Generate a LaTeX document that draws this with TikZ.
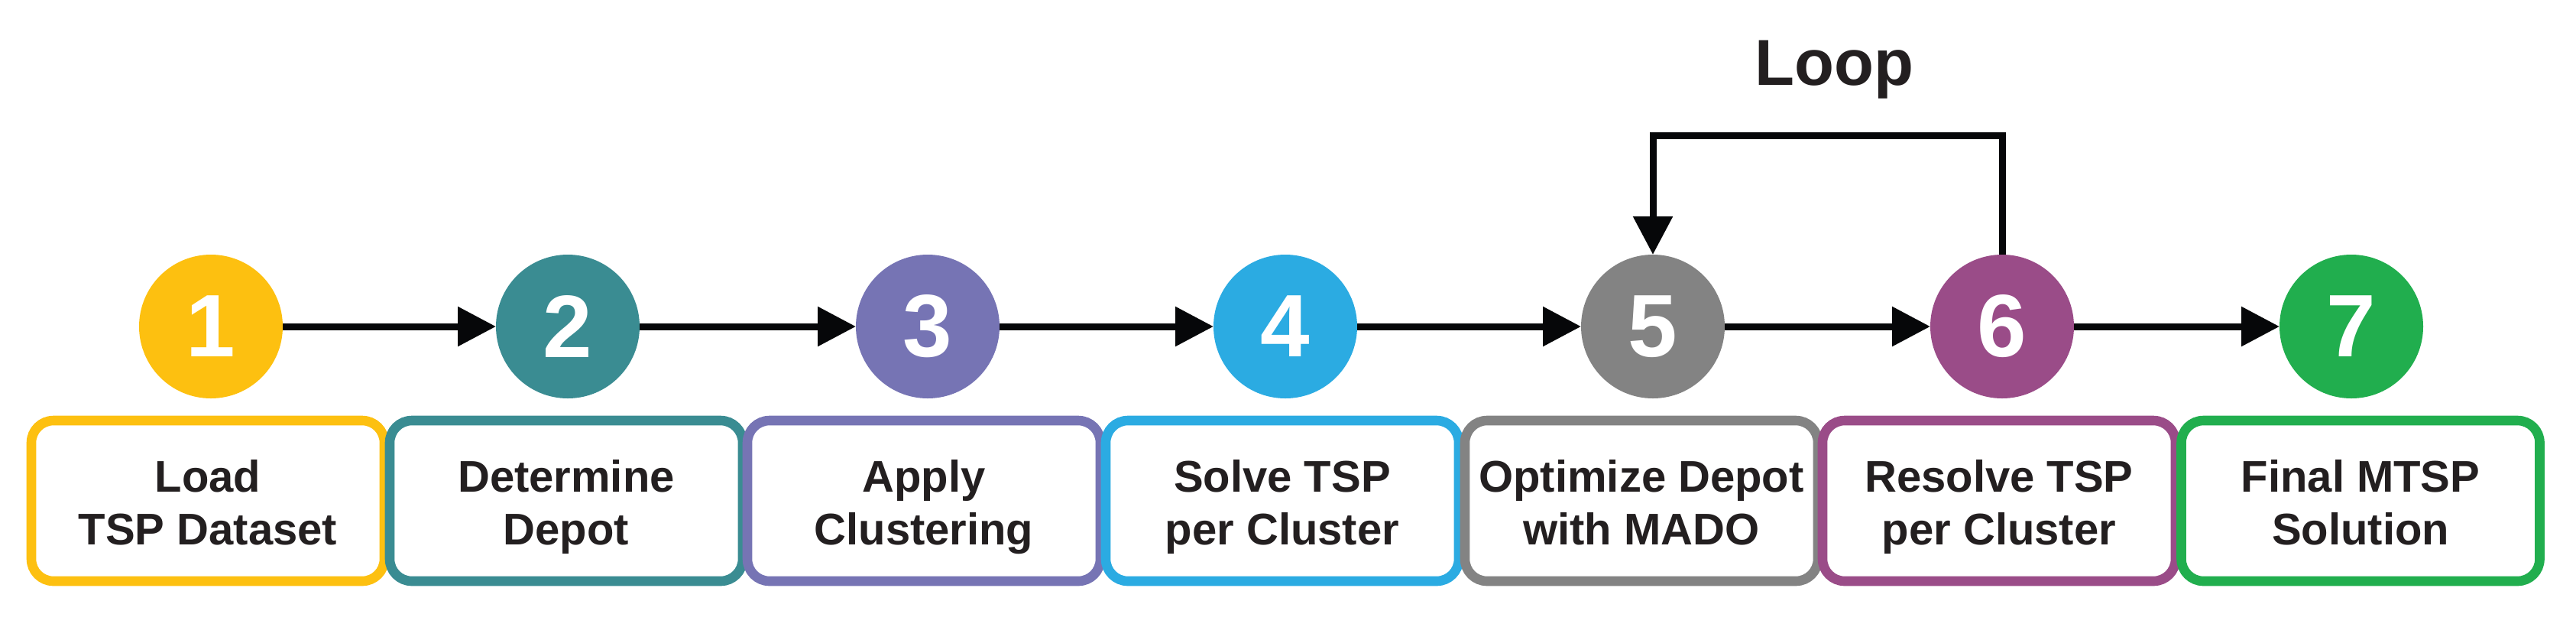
\documentclass[tikz,border=0pt]{standalone}
\usepackage{fontspec}
\setmainfont{Liberation Sans}
\usetikzlibrary{arrows.meta}
\definecolor{cA}{HTML}{FDC010}
\definecolor{cB}{HTML}{3A8C92}
\definecolor{cC}{HTML}{7674B4}
\definecolor{cD}{HTML}{2BABE2}
\definecolor{cE}{HTML}{838383}
\definecolor{cF}{HTML}{9A4C88}
\definecolor{cG}{HTML}{21AE4E}
\definecolor{txt}{HTML}{231F20}
\definecolor{arrc}{HTML}{060709}
\tikzset{
  numcirc/.style={circle, minimum size=1.88cm, inner sep=0pt, outer sep=0pt, text=white,
    font=\fontsize{33}{36}\selectfont\bfseries},
  stepbox/.style={draw, rounded corners=0.29cm, line width=0.126cm, fill=white,
    minimum width=4.62cm, minimum height=2.10cm, inner sep=0pt},
  lbl/.style={inner sep=0pt, align=center, text=txt,
    font=\fontsize{16.5}{19.9}\selectfont\bfseries},
  arr/.style={draw=arrc, line width=0.09cm, -{Triangle[length=0.5cm,width=0.5cm]}},
}
\begin{document}
\begin{tikzpicture}
\useasboundingbox (0,0) rectangle (33.71,-8.19);
% circles
\node[numcirc, fill=cA] (c1) at (2.76,-4.27) {1};
\node[numcirc, fill=cB] (c2) at (7.43,-4.27) {2};
\node[numcirc, fill=cC] (c3) at (12.14,-4.27) {3};
\node[numcirc, fill=cD] (c4) at (16.82,-4.27) {4};
\node[numcirc, fill=cE] (c5) at (21.63,-4.27) {5};
\node[numcirc, fill=cF] (c6) at (26.20,-4.27) {6};
\node[numcirc, fill=cG] (c7) at (30.77,-4.27) {7};
% boxes
\node[stepbox, draw=cA] (b1) at (2.72,-6.55) {};
\node[stepbox, draw=cB] (b2) at (7.41,-6.55) {};
\node[stepbox, draw=cC] (b3) at (12.09,-6.55) {};
\node[stepbox, draw=cD] (b4) at (16.78,-6.55) {};
\node[stepbox, draw=cE] (b5) at (21.48,-6.55) {};
\node[stepbox, draw=cF] (b6) at (26.16,-6.55) {};
\node[stepbox, draw=cG, minimum width=4.69cm] (b7) at (30.89,-6.55) {};
% labels
\node[lbl] (t1) at ([yshift=-0.09cm]b1.center) {Load\strut\\TSP Dataset\strut};
\node[lbl] (t2) at ([yshift=-0.09cm]b2.center) {Determine\strut\\Depot\strut};
\node[lbl] (t3) at ([yshift=-0.09cm]b3.center) {Apply\strut\\Clustering\strut};
\node[lbl] (t4) at ([yshift=-0.09cm]b4.center) {Solve TSP\strut\\per Cluster\strut};
\node[lbl] (t5) at ([yshift=-0.09cm]b5.center) {Optimize Depot\strut\\with MADO\strut};
\node[lbl] (t6) at ([yshift=-0.09cm]b6.center) {Resolve TSP\strut\\per Cluster\strut};
\node[lbl] (t7) at ([yshift=-0.09cm]b7.center) {Final MTSP\strut\\Solution\strut};
% arrows
\draw[arr] (c1) -- (c2);
\draw[arr] (c2) -- (c3);
\draw[arr] (c3) -- (c4);
\draw[arr] (c4) -- (c5);
\draw[arr] (c5) -- (c6);
\draw[arr] (c6) -- (c7);
\draw[arr] (c6.north) -- ++(0,1.56) -| (c5.north);
\node[anchor=base, text=txt, font=\fontsize{24.2}{28}\selectfont\bfseries, inner sep=0pt] (loop) at (24.00,-1.11) {Loop};
\end{tikzpicture}
\end{document}
